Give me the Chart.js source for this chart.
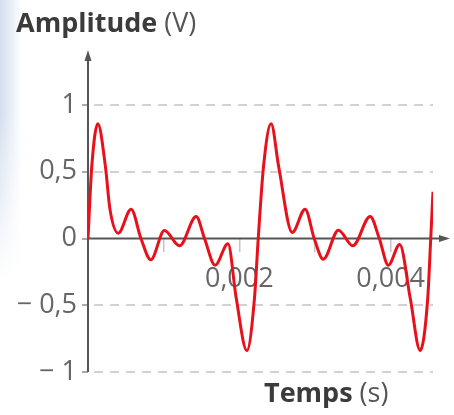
<!DOCTYPE html>
<html lang="fr">
<head>
    <meta charset="UTF-8">
    <title>Amplitude (V) - Temps (s)</title>
    <script src="https://cdn.jsdelivr.net/npm/chart.js"></script>
    <style>
        body {
            margin: 0;
            background-color: #fff;
            font-family: 'Open Sans', sans-serif;
        }
        .wrap {
            position: relative;
            width: 454px;
            height: 415px;
            overflow: hidden;
        }
        .edge {
            position: absolute;
            left: 0;
            top: 0;
            width: 22px;
            height: 280px;
            background: linear-gradient(to right, #d3deee, rgba(255, 255, 255, 0));
            -webkit-mask-image: linear-gradient(to bottom, #000 40%, transparent);
        }
        .axis-title {
            position: absolute;
            font-size: 27px;
            line-height: 32px;
            color: #555;
            white-space: nowrap;
        }
        .axis-title b {
            color: #3b3b3b;
        }
        canvas {
            position: absolute;
            left: 0;
            top: 0;
        }
    </style>
</head>
<body>
    <div class="wrap">
        <div class="edge"></div>
        <canvas id="signalChart" width="454" height="415"></canvas>
        <div class="axis-title" style="left: 16px; top: 6px;"><b>Amplitude</b> (V)</div>
        <div class="axis-title" style="left: 264px; top: 376px;"><b>Temps</b> (s)</div>
    </div>
    <script>
        // values (time in s, amplitude in V)
        const timeValues = [
            0, 0.00005, 0.00013, 0.00023, 0.00029, 0.0004, 0.00057, 0.0007, 0.00083,
            0.00101, 0.00121, 0.00143, 0.00154, 0.00168, 0.00185, 0.00196, 0.0021, 0.0022,
            0.00225, 0.00232, 0.00242, 0.00252, 0.0027, 0.00287, 0.00299, 0.00311, 0.00331,
            0.0035, 0.00373, 0.00385, 0.00397, 0.00412, 0.00426, 0.00439, 0.00449, 0.00453, 0.00456
        ];
        const amplitudeValues = [
            0, 0.54, 0.86, 0.54, 0.22, 0.04, 0.22, 0, -0.16,
            0.06, -0.055, 0.165, 0, -0.2, -0.04, -0.45, -0.84, -0.45,
            0, 0.54, 0.86, 0.54, 0.045, 0.22, 0, -0.155, 0.062,
            -0.055, 0.165, 0, -0.2, -0.045, -0.45, -0.84, -0.45, 0, 0.35
        ];
        const yTickValues = [-1, -0.5, 0, 0.5, 1];
        const yTickLabels = ['\u2212 1', '\u2212 0,5', '0', '0,5', '1'];
        const xLabelValues = [0.002, 0.004];
        const xLabelTexts = ['0,002', '0,004'];

        const points = timeValues.map((t, i) => ({ x: t, y: amplitudeValues[i] }));

        // axis lines with arrow heads, drawn under the curve
        const axisArrows = {
            id: 'axisArrows',
            beforeDatasetsDraw(chart) {
                const { ctx, chartArea, scales } = chart;
                const x0 = scales.x.getPixelForValue(0);
                const y0 = scales.y.getPixelForValue(0);
                const xEnd = chartArea.right + 17;
                ctx.save();
                ctx.strokeStyle = '#555';
                ctx.fillStyle = '#555';
                ctx.lineWidth = 2;
                ctx.beginPath();
                ctx.moveTo(x0, chartArea.bottom);
                ctx.lineTo(x0, chartArea.top + 6);
                ctx.moveTo(x0, y0);
                ctx.lineTo(xEnd - 6, y0);
                ctx.stroke();
                ctx.beginPath();
                ctx.moveTo(x0, chartArea.top);
                ctx.lineTo(x0 - 3.5, chartArea.top + 11);
                ctx.lineTo(x0 + 3.5, chartArea.top + 11);
                ctx.closePath();
                ctx.fill();
                ctx.beginPath();
                ctx.moveTo(xEnd, y0);
                ctx.lineTo(xEnd - 11, y0 - 3.5);
                ctx.lineTo(xEnd - 11, y0 + 3.5);
                ctx.closePath();
                ctx.fill();
                ctx.restore();
            }
        };

        new Chart(document.getElementById('signalChart'), {
            type: 'line',
            data: {
                datasets: [{
                    data: points,
                    borderColor: '#e8101a',
                    borderWidth: 3,
                    pointRadius: 0,
                    cubicInterpolationMode: 'monotone',
                    fill: false
                }]
            },
            options: {
                responsive: false,
                animation: false,
                events: [],
                layout: { padding: { left: 0, right: 21, top: 50, bottom: 43 } },
                plugins: {
                    legend: { display: false },
                    tooltip: { enabled: false }
                },
                scales: {
                    x: {
                        type: 'linear',
                        position: { y: 0 },
                        min: 0,
                        max: 0.00456,
                        border: { display: false },
                        grid: {
                            drawOnChartArea: false,
                            drawTicks: true,
                            tickLength: 13,
                            tickColor: '#c4c4c4',
                            lineWidth: 1.5
                        },
                        ticks: {
                            stepSize: 0.001,
                            includeBounds: false,
                            maxRotation: 0,
                            autoSkip: false,
                            padding: 12,
                            color: '#666',
                            font: { family: 'Open Sans', size: 27 },
                            callback: (value) => {
                                const i = xLabelValues.findIndex(v => Math.abs(v - value) < 1e-9);
                                return i >= 0 ? xLabelTexts[i] : '';
                            }
                        }
                    },
                    y: {
                        type: 'linear',
                        min: -1,
                        max: 1.412,
                        afterFit: (scale) => { scale.width = 88; },
                        afterBuildTicks: (scale) => {
                            scale.ticks = yTickValues.map(v => ({ value: v }));
                        },
                        border: { display: false, dash: [9, 7], dashOffset: -6 },
                        grid: {
                            color: (c) => (c.tick && c.tick.value === 0 ? 'rgba(0,0,0,0)' : '#d2d2d2'),
                            lineWidth: 2,
                            tickLength: 6,
                            tickColor: '#aaa',
                            tickBorderDash: []
                        },
                        ticks: {
                            padding: 5,
                            color: '#666',
                            font: { family: 'Open Sans', size: 27 },
                            callback: (value) => {
                                const i = yTickValues.indexOf(value);
                                return i >= 0 ? yTickLabels[i] : '';
                            }
                        }
                    }
                }
            },
            plugins: [axisArrows]
        });
    </script>
</body>
</html>
